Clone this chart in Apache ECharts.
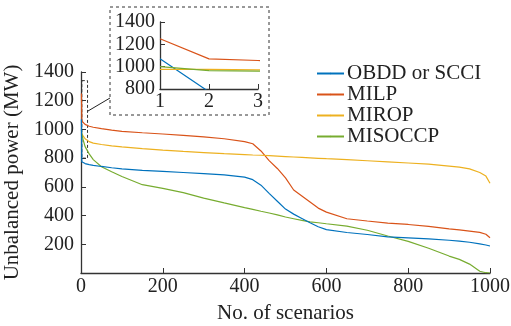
<!DOCTYPE html>
<html>
<head>
<meta charset="utf-8">
<script src="https://cdn.jsdelivr.net/npm/echarts@6/dist/echarts.min.js"></script>
<style>
  html, body { margin: 0; padding: 0; background: #fff; }
  #chart { width: 511px; height: 326px; }
</style>
</head>
<body>
<div id="chart"></div>
<script>
// scenario index (sorted duration curve), sampled
const scenarios = [1, 2, 3, 5, 10, 20, 30, 50, 75, 100, 150, 200, 250, 300, 350, 400, 420, 440, 460, 480,
  500, 520, 540, 560, 580, 600, 650, 700, 750, 800, 850, 900, 925, 950, 975, 990, 1000];

const obdd = [1070, 775, 770, 768, 762, 755, 750, 742, 733, 725, 715, 708, 700, 692, 684, 668, 650, 612, 555, 500,
  445, 410, 380, 350, 322, 302, 282, 268, 252, 245, 238, 228, 222, 214, 203, 195, 188];
const milp = [1250, 1070, 1055, 1045, 1035, 1022, 1015, 1005, 995, 987, 977, 968, 958, 948, 935, 915, 900, 850, 783, 728,
  662, 578, 536, 494, 452, 424, 378, 362, 348, 338, 325, 308, 300, 292, 283, 270, 246];
const mirop = [975, 975, 972, 955, 935, 915, 905, 895, 885, 878, 866, 856, 847, 839, 831, 825, 822, 820, 817, 814,
  811, 808, 805, 802, 799, 796, 790, 782, 774, 766, 758, 745, 737, 725, 700, 675, 625];
const misoccp = [1000, 965, 960, 930, 880, 830, 790, 740, 705, 672, 615, 590, 560, 522, 488, 455, 443, 430, 418, 405,
  390, 378, 366, 356, 350, 343, 326, 298, 258, 220, 172, 118, 95, 62, 12, 2, 0];

const seriesNames = ['OBDD or SCCI', 'MILP', 'MIROP', 'MISOCCP'];
const seriesColors = ['#0072BD', '#D95319', '#EDB120', '#77AC30'];
const seriesData = [obdd, milp, mirop, misoccp];

const mainYTicks = { min: 0, max: 1400, interval: 200 };
const mainXTicks = { min: 0, max: 1000, interval: 200 };
const insetYTicks = { min: 800, max: 1400, interval: 200 };
const insetXTicks = { min: 1, max: 3, interval: 1 };

const font = 'Times New Roman';
const axisColor = '#333';

function pairs(values) {
  return scenarios.map((s, i) => [s, values[i]]);
}

const chart = echarts.init(document.getElementById('chart'), null, { renderer: 'canvas' });

const axisCommon = {
  axisLine: { show: true, lineStyle: { color: axisColor, width: 1.3 } },
  axisTick: { show: true, inside: true, length: 5, lineStyle: { color: axisColor } },
  axisLabel: { color: '#222', fontFamily: font, fontSize: 20, formatter: v => String(v) },
  splitLine: { show: false },
};

const mainSeries = seriesNames.map((name, i) => ({
  name,
  type: 'line',
  xAxisIndex: 0,
  yAxisIndex: 0,
  data: pairs(seriesData[i]),
  symbol: 'none',
  lineStyle: { width: 1.2, color: seriesColors[i] },
  itemStyle: { color: seriesColors[i] },
  z: 3 + (i === 0 ? 1 : 0),
}));

// dashed box marking the zoomed region
mainSeries[0].markArea = {
  silent: true,
  itemStyle: { color: 'rgba(0,0,0,0)', borderColor: '#333', borderWidth: 1, borderType: [3, 2] },
  data: [[{ xAxis: 2, yAxis: 1340 }, { xAxis: 16, yAxis: 800 }]],
};

const insetSeries = seriesNames.map((name, i) => ({
  name: name + ' (inset)',
  type: 'line',
  xAxisIndex: 1,
  yAxisIndex: 1,
  data: pairs(seriesData[i]),
  symbol: 'none',
  clip: true,
  lineStyle: { width: 1.2, color: seriesColors[i] },
  itemStyle: { color: seriesColors[i] },
}));

chart.setOption({
  backgroundColor: '#fff',
  animation: false,
  textStyle: { fontFamily: font },
  grid: [
    { left: 81, right: 21, top: 72, bottom: 53, outerBoundsMode: 'none', containLabel: false },
    { left: 160, right: 253, top: 22, bottom: 237, outerBoundsMode: 'none', containLabel: false },
  ],
  legend: {
    data: seriesNames,
    orient: 'vertical',
    left: 316,
    top: 63,
    itemWidth: 27,
    itemHeight: 2,
    itemGap: 0,
    padding: 0,
    textStyle: { fontFamily: font, fontSize: 21, color: '#222', lineHeight: 17.5, padding: [0, 0, 0, -2] },
  },
  xAxis: [
    {
      ...axisCommon,
      gridIndex: 0,
      type: 'value',
      ...mainXTicks,
      name: 'No. of scenarios',
      nameLocation: 'middle',
      nameGap: 30,
      nameTextStyle: { fontFamily: font, fontSize: 21, color: '#222' },
      axisLabel: { ...axisCommon.axisLabel, margin: 4 },
    },
    {
      ...axisCommon,
      gridIndex: 1,
      type: 'value',
      ...insetXTicks,
      axisLabel: { ...axisCommon.axisLabel, margin: 3 },
    },
  ],
  yAxis: [
    {
      ...axisCommon,
      gridIndex: 0,
      type: 'value',
      ...mainYTicks,
      name: 'Unbalanced power (MW)',
      nameLocation: 'middle',
      nameGap: 53,
      nameTextStyle: { fontFamily: font, fontSize: 21, color: '#222' },
      axisLabel: { ...axisCommon.axisLabel, margin: 7, showMinLabel: false },
    },
    {
      ...axisCommon,
      gridIndex: 1,
      type: 'value',
      ...insetYTicks,
      axisLabel: { ...axisCommon.axisLabel, margin: 5 },
    },
  ],
  graphic: [
    {
      type: 'rect',
      shape: { x: 110, y: 7, width: 159, height: 108 },
      style: { fill: 'none', stroke: '#333', lineWidth: 1, lineDash: [3, 3] },
      silent: true,
    },
    {
      type: 'line',
      shape: { x1: 88, y1: 111, x2: 110, y2: 98 },
      style: { stroke: '#222', lineWidth: 1 },
      silent: true,
    },
  ],
  series: [...mainSeries, ...insetSeries],
});
</script>
</body>
</html>
